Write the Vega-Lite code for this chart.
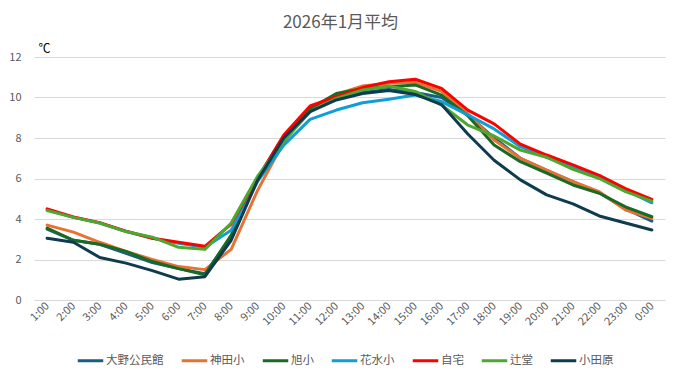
{
  "$schema": "https://vega.github.io/schema/vega-lite/v6.json",
  "width": 631,
  "height": 243,
  "autosize": {"type": "none"},
  "padding": {"left": 34, "top": 57, "right": 16, "bottom": 78},
  "background": "white",
  "config": {
    "font": "Noto Sans CJK JP",
    "view": {"stroke": null}
  },
  "title": {
    "text": "2026年1月平均",
    "fontSize": 17,
    "fontWeight": "normal",
    "color": "#595959",
    "anchor": "middle",
    "frame": "group",
    "dx": -9,
    "offset": 10
  },
  "data": {
    "values": [
      {"t": "1:00", "大野公民館": 3.5, "神田小": 3.7, "旭小": 3.55, "花水小": 4.45, "自宅": 4.5, "辻堂": 4.42, "小田原": 3.05},
      {"t": "2:00", "大野公民館": 2.95, "神田小": 3.35, "旭小": 2.95, "花水小": 4.08, "自宅": 4.1, "辻堂": 4.08, "小田原": 2.85},
      {"t": "3:00", "大野公民館": 2.75, "神田小": 2.85, "旭小": 2.75, "花水小": 3.8, "自宅": 3.82, "辻堂": 3.8, "小田原": 2.1},
      {"t": "4:00", "大野公民館": 2.3, "神田小": 2.4, "旭小": 2.4, "花水小": 3.38, "自宅": 3.4, "辻堂": 3.38, "小田原": 1.82},
      {"t": "5:00", "大野公民館": 1.85, "神田小": 2.0, "旭小": 1.9, "花水小": 3.05, "自宅": 3.05, "辻堂": 3.1, "小田原": 1.45},
      {"t": "6:00", "大野公民館": 1.55, "神田小": 1.65, "旭小": 1.55, "花水小": 2.8, "自宅": 2.85, "辻堂": 2.6, "小田原": 1.03},
      {"t": "7:00", "大野公民館": 1.3, "神田小": 1.5, "旭小": 1.25, "花水小": 2.6, "自宅": 2.65, "辻堂": 2.5, "小田原": 1.15},
      {"t": "8:00", "大野公民館": 3.1, "神田小": 2.5, "旭小": 3.2, "花水小": 3.45, "自宅": 3.75, "辻堂": 3.8, "小田原": 2.95},
      {"t": "9:00", "大野公民館": 5.95, "神田小": 5.4, "旭小": 6.0, "花水小": 5.85, "自宅": 6.0, "辻堂": 6.1, "小田原": 5.9},
      {"t": "10:00", "大野公民館": 7.95, "神田小": 7.8, "旭小": 8.07, "花水小": 7.65, "自宅": 8.15, "辻堂": 7.85, "小田原": 8.0},
      {"t": "11:00", "大野公民館": 9.35, "神田小": 9.4, "旭小": 9.46, "花水小": 8.92, "自宅": 9.58, "辻堂": 9.3, "小田原": 9.3},
      {"t": "12:00", "大野公民館": 9.95, "神田小": 10.15, "旭小": 10.2, "花水小": 9.38, "自宅": 10.04, "辻堂": 9.96, "小田原": 9.88},
      {"t": "13:00", "大野公民館": 10.25, "神田小": 10.57, "旭小": 10.45, "花水小": 9.74, "自宅": 10.49, "辻堂": 10.37, "小田原": 10.2},
      {"t": "14:00", "大野公民館": 10.4, "神田小": 10.7, "旭小": 10.53, "花水小": 9.91, "自宅": 10.78, "辻堂": 10.57, "小田原": 10.34},
      {"t": "15:00", "大野公民館": 10.25, "神田小": 10.75, "旭小": 10.62, "花水小": 10.12, "自宅": 10.9, "辻堂": 10.3, "小田原": 10.15},
      {"t": "16:00", "大野公民館": 10.0, "神田小": 10.3, "旭小": 10.12, "花水小": 9.8, "自宅": 10.45, "辻堂": 9.63, "小田原": 9.65},
      {"t": "17:00", "大野公民館": 9.15, "神田小": 9.2, "旭小": 9.1, "花水小": 9.14, "自宅": 9.38, "辻堂": 8.64, "小田原": 8.2},
      {"t": "18:00", "大野公民館": 8.0, "神田小": 7.9, "旭小": 7.65, "花水小": 8.45, "自宅": 8.7, "辻堂": 8.1, "小田原": 6.9},
      {"t": "19:00", "大野公民館": 7.0, "神田小": 7.0, "旭小": 6.83, "花水小": 7.57, "自宅": 7.7, "辻堂": 7.4, "小田原": 5.93},
      {"t": "20:00", "大野公民館": 6.4, "神田小": 6.42, "旭小": 6.26, "花水小": 7.05, "自宅": 7.16, "辻堂": 7.05, "小田原": 5.19},
      {"t": "21:00", "大野公民館": 5.85, "神田小": 5.84, "旭小": 5.68, "花水小": 6.55, "自宅": 6.67, "辻堂": 6.45, "小田原": 4.75},
      {"t": "22:00", "大野公民館": 5.3, "神田小": 5.35, "旭小": 5.27, "花水小": 6.09, "自宅": 6.15, "辻堂": 6.0, "小田原": 4.15},
      {"t": "23:00", "大野公民館": 4.5, "神田小": 4.44, "旭小": 4.6, "花水小": 5.43, "自宅": 5.5, "辻堂": 5.35, "小田原": 3.8},
      {"t": "0:00", "大野公民館": 3.9, "神田小": 4.03, "旭小": 4.11, "花水小": 4.8, "自宅": 4.97, "辻堂": 4.88, "小田原": 3.46}
    ]
  },
  "transform": [
    {"fold": ["大野公民館", "神田小", "旭小", "花水小", "自宅", "辻堂", "小田原"], "as": ["地点", "気温"]}
  ],
  "mark": {"type": "line", "strokeWidth": 3, "strokeJoin": "round", "strokeCap": "round"},
  "encoding": {
    "x": {
      "field": "t",
      "type": "ordinal",
      "sort": null,
      "scale": {"type": "point", "padding": 0.5},
      "axis": {
        "title": null,
        "labelAngle": -45,
        "labelAlign": "right",
        "labelBaseline": "middle",
        "labelFontSize": 11,
        "labelColor": "#595959",
        "labelPadding": 4,
        "ticks": false,
        "domainColor": "#d9d9d9",
        "domainWidth": 1,
        "grid": false
      }
    },
    "y": {
      "field": "気温",
      "type": "quantitative",
      "scale": {"domain": [0, 12], "nice": false},
      "axis": {
        "title": "℃",
        "titleAngle": 0,
        "titleX": 4,
        "titleY": -9,
        "titleAlign": "left",
        "titleBaseline": "middle",
        "titleFontSize": 12,
        "titleFontWeight": "normal",
        "titleColor": "#000000",
        "values": [0, 2, 4, 6, 8, 10, 12],
        "labelFontSize": 11,
        "labelColor": "#595959",
        "labelPadding": 13,
        "ticks": false,
        "domain": false,
        "gridColor": "#d9d9d9",
        "gridWidth": 1
      }
    },
    "color": {
      "field": "地点",
      "type": "nominal",
      "sort": null,
      "scale": {
        "domain": ["大野公民館", "神田小", "旭小", "花水小", "自宅", "辻堂", "小田原"],
        "range": ["#156082", "#E97132", "#196B24", "#0F9ED5", "#FF0000", "#4EA72E", "#0F3B4E"]
      },
      "legend": {
        "title": null,
        "orient": "none",
        "direction": "horizontal",
        "legendX": 42,
        "legendY": 289,
        "symbolType": "stroke",
        "symbolSize": 650,
        "symbolStrokeWidth": 3,
        "labelFontSize": 11.5,
        "labelColor": "#595959",
        "labelOffset": 1,
        "columnPadding": 11
      }
    }
  }
}
